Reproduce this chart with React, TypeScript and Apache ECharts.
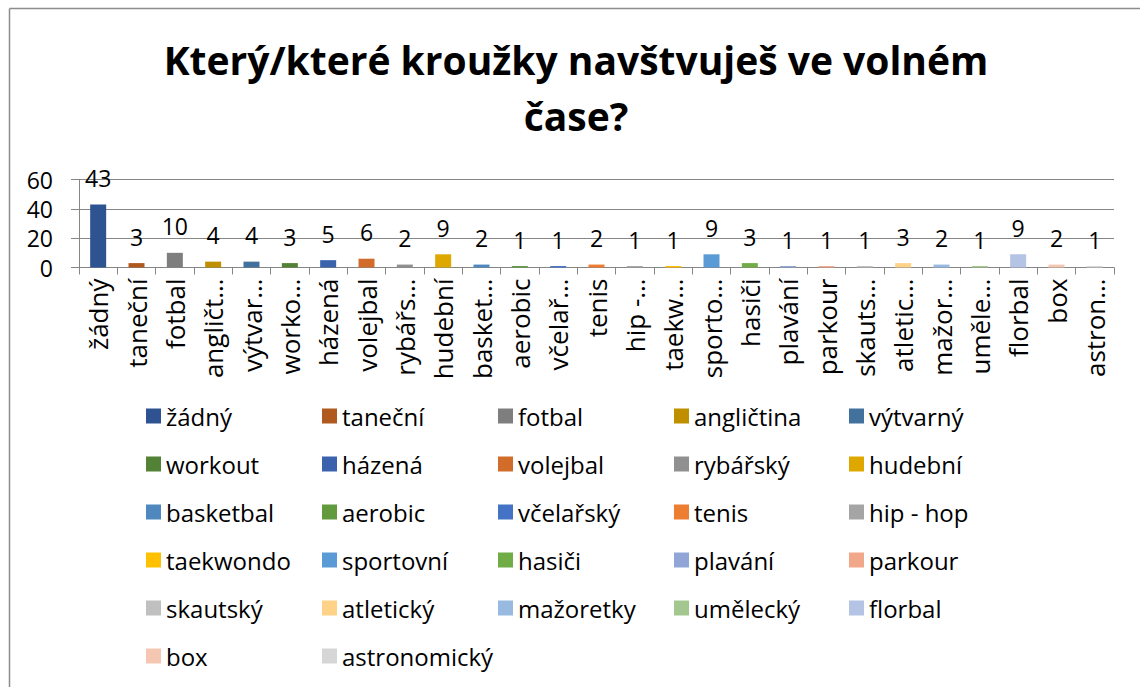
import React, { useEffect, useRef } from "react";
import * as echarts from "echarts";

const categories = [
  "žádný", "taneční", "fotbal", "angličtina", "výtvarný", "workout", "házená", "volejbal", "rybářský",
  "hudební", "basketbal", "aerobic", "včelařský", "tenis", "hip - hop", "taekwondo", "sportovní", "hasiči",
  "plavání", "parkour", "skautský", "atletický", "mažoretky", "umělecký", "florbal", "box", "astronomický",
];
const values = [43, 3, 10, 4, 4, 3, 5, 6, 2, 9, 2, 1, 1, 2, 1, 1, 9, 3, 1, 1, 1, 3, 2, 1, 9, 2, 1];
const tickLabels = [
  "žádný", "taneční", "fotbal", "angličt…", "výtvar…", "worko…", "házená", "volejbal", "rybářs…",
  "hudební", "basket…", "aerobic", "včelař…", "tenis", "hip -…", "taekw…", "sporto…", "hasiči",
  "plavání", "parkour", "skauts…", "atletic…", "mažor…", "uměle…", "florbal", "box", "astron…",
];
const colors = [
  "#2F5290", "#B0591F", "#7E7E7E", "#BF8F00", "#41719C", "#538135",
  "#3A62AD", "#D16C2A", "#909090", "#DEA800", "#4F88BE", "#629A3E",
  "#4472C4", "#ED7D31", "#A5A5A5", "#FFC000", "#5B9BD5", "#70AD47",
  "#8FA6D7", "#F1A88A", "#C0C0C0", "#FFD387", "#99BAE0", "#A3C88F",
  "#B5C4E4", "#F5C7B2", "#D6D6D6",
];
const yTicks = { min: 0, max: 60, interval: 20 };
const title = "Který/které kroužky navštvuješ ve volném\nčase?";

const FONT = "'Open Sans', sans-serif";

export default function App() {
  const ref = useRef<HTMLDivElement>(null);
  useEffect(() => {
    if (!ref.current) return;
    const chart = echarts.init(ref.current, undefined, { renderer: "svg" });
    const series = categories.map((name, i) => ({
      name,
      type: "bar",
      stack: "all",
      barWidth: 16,
      itemStyle: { color: colors[i] },
      label: {
        show: true,
        position: "top",
        distance: 15,
        fontSize: 23,
        fontFamily: FONT,
        color: "#000",
      },
      data: values.map((v, j) => (j === i ? v : null)),
    }));
    const legendCols = [146, 322, 498, 674, 849];
    const legends = legendCols.map((left, c) => ({
      orient: "vertical",
      left,
      top: 404,
      padding: 0,
      itemWidth: 15,
      itemHeight: 15,
      itemGap: 24,
      icon: "rect",
      selectedMode: false,
      textStyle: { fontSize: 24, fontFamily: FONT, color: "#000" },
      data: categories.filter((_, i) => i % 5 === c),
    }));
    chart.setOption({
      animation: false,
      backgroundColor: "#fff",
      legend: legends,
      grid: { left: 79, right: 26, top: 179.5, bottom: 419.5, containLabel: false },
      xAxis: {
        type: "category",
        data: categories,
        axisLine: { lineStyle: { color: "#868686", width: 1 } },
        axisTick: { show: true, length: 7, lineStyle: { color: "#868686" } },
        axisLabel: {
          interval: 0,
          rotate: 90,
          margin: 11,
          fontSize: 26,
          fontFamily: FONT,
          color: "#000",
          formatter: (_v: string, idx: number) => tickLabels[idx],
        },
      },
      yAxis: {
        type: "value",
        min: yTicks.min,
        max: yTicks.max,
        interval: yTicks.interval,
        axisLine: { show: true, lineStyle: { color: "#868686" } },
        axisTick: { show: true, length: 8, lineStyle: { color: "#868686" } },
        splitLine: { lineStyle: { color: "#868686" } },
        axisLabel: { fontSize: 23, fontFamily: FONT, color: "#000", margin: 26 },
      },
      graphic: [
        {
          type: "text",
          x: 576,
          y: 31,
          style: {
            text: title,
            align: "center",
            verticalAlign: "top",
            fontSize: 39,
            fontWeight: "bold",
            fontFamily: FONT,
            fill: "#000",
            lineHeight: 56,
          },
        },
        { type: "line", shape: { x1: 9.5, y1: 8.5, x2: 1140, y2: 8.5 }, style: { stroke: "#8C8C8C", lineWidth: 1.5 } },
        { type: "line", shape: { x1: 9.5, y1: 8.5, x2: 9.5, y2: 687 }, style: { stroke: "#8C8C8C", lineWidth: 1.5 } },
      ],
      series,
    });
    return () => chart.dispose();
  }, []);
  return (
    <div
      ref={ref}
      style={{ position: "absolute", left: 0, top: 0, width: 1140, height: 687 }}
    />
  );
}
